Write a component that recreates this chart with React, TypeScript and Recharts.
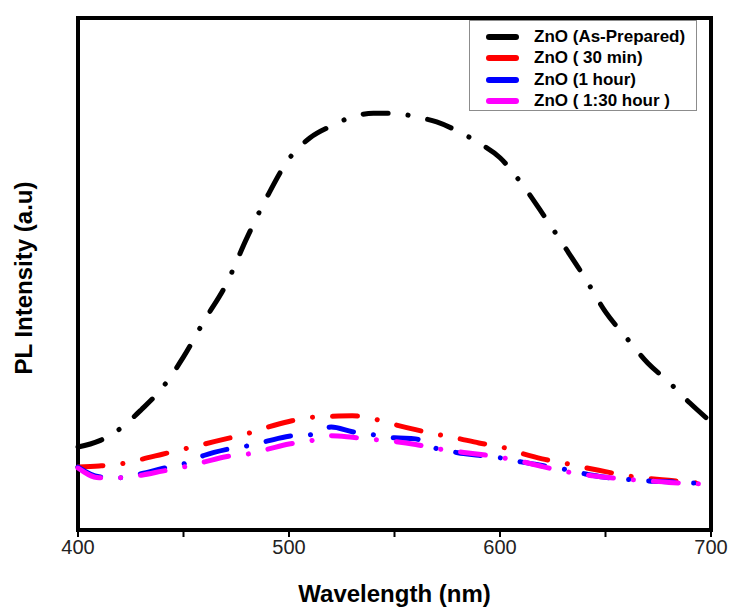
import React from "react"
import { LineChart, Line, XAxis, YAxis, Legend, ReferenceArea, Label } from "recharts"

// wavelength grid (nm)
const wavelengths = [
  400, 410, 420, 430, 440, 450, 460, 470, 480, 490, 500, 510, 520, 530, 540, 550,
  560, 570, 580, 590, 600, 610, 620, 630, 640, 650, 660, 670, 680, 690, 700,
]

// PL intensity (a.u.)
const asPrepared = [
  16.2, 17.4, 19.8, 23.5, 27.8, 33.8, 41, 47.8, 57, 65.4, 72.5, 76.6, 78.9, 80.7, 81.4, 81.4,
  80.7, 79.7, 77.9, 75.6, 72.7, 67.8, 61.9, 55.7, 49.4, 42.6, 37.5, 32.6, 28.9, 24.8, 21.1,
]
const min30 = [
  12.3, 12.5, 12.9, 13.8, 14.8, 15.8, 16.8, 17.8, 18.8, 20.1, 21.2, 22, 22.2, 22.3, 21.7, 20.6,
  19.6, 18.7, 17.9, 17, 16.3, 15, 13.9, 13.1, 12.2, 11.4, 10.6, 10.1, 9.7, 9.3, 9.0,
]
const hour1 = [
  12.3, 10.4, 10.2, 11, 12, 12.9, 14.6, 15.7, 16.4, 17.4, 18.3, 18.6, 20.1, 19.2, 18.6, 18.0,
  17.8, 15.9, 15.1, 14.6, 14.1, 13.3, 12.6, 11.9, 11.0, 10.3, 9.9, 9.6, 9.4, 9.2, 9.0,
]
const hour130 = [
  12.1, 10.2, 10.2, 10.7, 11.5, 12.3, 13.3, 14.3, 14.8, 15.8, 16.8, 17.4, 18.4, 18.1, 17.7, 17.3,
  16.7, 15.9, 15.3, 14.8, 14.2, 13.4, 12.4, 11.5, 10.8, 10.3, 9.9, 9.6, 9.3, 9.1, 8.9,
]

const xTicks = [400, 450, 500, 550, 600, 650, 700]
const labelledTicks = [400, 500, 600, 700]

const series = [
  { key: "asPrepared", name: "ZnO (As-Prepared)", color: "#000000" },
  { key: "min30", name: "ZnO ( 30 min)", color: "#ff0000" },
  { key: "hour1", name: "ZnO (1 hour)", color: "#0000ff" },
  { key: "hour130", name: "ZnO ( 1:30 hour )", color: "#ff00ff" },
]

const data = wavelengths.map((w, i) => ({
  w,
  asPrepared: asPrepared[i],
  min30: min30[i],
  hour1: hour1[i],
  hour130: hour130[i],
}))

const font = "'Liberation Sans', Arial, Helvetica, sans-serif"

const renderLegend = () => (
  <div
    style={{
      border: "1px solid #8c8c8c",
      background: "#fff",
      width: 228,
      height: 91,
      boxSizing: "border-box",
      paddingTop: 5,
      fontFamily: font,
    }}
  >
    {series.map((s) => (
      <div key={s.key} style={{ display: "flex", alignItems: "center", height: 21.5 }}>
        <svg width={50} height={10} style={{ marginLeft: 16 }}>
          <line x1={3} y1={5} x2={30} y2={5} stroke={s.color} strokeWidth={6} strokeLinecap="round" />
        </svg>
        <span style={{ fontSize: 17, fontWeight: "bold", color: "#000", marginLeft: -2 }}>{s.name}</span>
      </div>
    ))}
  </div>
)

export default function App() {
  return (
    <div style={{ position: "absolute", left: 0, top: 0, background: "#fff" }}>
      <LineChart width={731} height={608} data={data} margin={{ top: 18, right: 20, bottom: 0, left: 0 }}>
        <XAxis
          dataKey="w"
          type="number"
          domain={[400, 700]}
          ticks={xTicks}
          tickFormatter={(v: number) => (labelledTicks.includes(v) ? String(v) : "")}
          height={78}
          axisLine={{ stroke: "#000", strokeWidth: 4 }}
          tickLine={{ stroke: "#000", strokeWidth: 2 }}
          tickSize={7}
          tickMargin={3}
          tick={{ fill: "#222", fontSize: 20, fontFamily: font }}
        >
          <Label
            value="Wavelength (nm)"
            position="insideBottom"
            offset={6}
            style={{ fontFamily: font, fontWeight: "bold", fontSize: 24, fill: "#000" }}
          />
        </XAxis>
        <YAxis type="number" domain={[0, 100]} width={78} tick={false} tickLine={false} axisLine={false}>
          <Label
            value="PL Intensity (a.u)"
            angle={-90}
            position="center"
            dx={-16}
            dy={4}
            style={{ fontFamily: font, fontWeight: "bold", fontSize: 24, fill: "#000", textAnchor: "middle" }}
          />
        </YAxis>
        <ReferenceArea
          x1={400}
          x2={700}
          y1={0}
          y2={100}
          fill="none"
          fillOpacity={0}
          stroke="#000"
          strokeWidth={4}
          ifOverflow="visible"
        />
        {series.map((s) => (
          <Line
            key={s.key}
            dataKey={s.key}
            name={s.name}
            type="monotone"
            stroke={s.color}
            strokeWidth={5}
            strokeDasharray="25 20 0.1 20"
            strokeLinecap="round"
            dot={false}
            activeDot={false}
            isAnimationActive={false}
          />
        ))}
        <Legend
          layout="vertical"
          align="center"
          verticalAlign="middle"
          content={renderLegend}
          wrapperStyle={{ left: 469, top: 20, width: 228, height: 91 }}
        />
      </LineChart>
    </div>
  )
}
